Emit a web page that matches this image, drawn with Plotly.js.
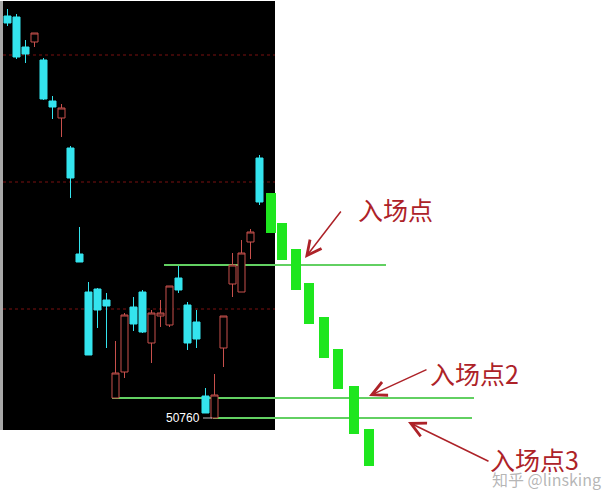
<!DOCTYPE html>
<html>
<head>
<meta charset="utf-8">
<script src="https://cdn.plot.ly/plotly-3.0.1.min.js"></script>
<style>html,body{margin:0;padding:0;background:#fff;}#chart{width:611px;height:504px;}</style>
</head>
<body>
<div id="chart"></div>
<script>
// ---- data ----
var candleX = [0,1,2,3,4,5,6,7,8,9,10,11,12,13,14,15,16,17,18,19,20,21,22,23,24,25,26,27,28];
var candleOpen  = [53976,53968,53728,53768,53624,53296,53160,52920,52072,51768,51792,51704,50920,51128,51648,51768,51360,51576,51504,51880,51664,51528,50936,50760,51320,51832,51768,52168,52840];
var candleHigh  = [54032,53992,53784,53840,53640,53336,53272,52936,52288,51848,51800,51760,51376,51600,51728,51784,51624,51704,51816,51976,51688,51624,51000,51112,51576,52080,52184,52272,52864];
var candleLow   = [53896,53632,53600,53728,53304,53152,53008,52520,52008,51264,51480,51320,50920,51080,51456,51440,51200,51488,51488,51760,51304,51320,50800,50760,51168,51728,51768,52032,52464];
var candleClose = [53920,53648,53672,53840,53312,53248,53240,52680,52008,51264,51624,51656,51120,51584,51512,51448,51600,51600,51816,51784,51360,51392,50800,50944,51576,51984,52080,52248,52488];

var projX     = [29.3,30.5,32.1,33.5,35.2,36.7,38.5,40.2];
var projOpen  = [52560,52320,52112,51840,51568,51312,51016,50672];
var projClose = [52240,52024,51784,51512,51240,50992,50632,50376];

var gridLevels = [53664, 52648, 51632];
var supportLevels = [51984, 50920, 50760];
var lowLabel = "50760";
var entryLabels = ["入场点", "入场点2", "入场点3"];
var watermark = "知乎 @linsking";

// ---- build traces ----
var CYAN = "#34e4ee", RED = "#c8504c", GREEN = "#1ee61e", LINEGREEN = "#62d062";

var pg = {x:[], base:[], y:[]};
for (var j = 0; j < projX.length; j++) {
  pg.x.push(projX[j]);
  pg.base.push(Math.min(projOpen[j], projClose[j]));
  pg.y.push(Math.abs(projOpen[j] - projClose[j]));
}

var traces = [
  {type:"bar", x:pg.x, base:pg.base, y:pg.y, width:1.1,
   marker:{color:GREEN, line:{width:0}}, hoverinfo:"skip"},
  {type:"candlestick", x:candleX, open:candleOpen, high:candleHigh, low:candleLow, close:candleClose,
   whiskerwidth:0,
   increasing:{line:{color:RED, width:1}, fillcolor:"#000000"},
   decreasing:{line:{color:CYAN, width:1}, fillcolor:CYAN},
   hoverinfo:"skip"}
];

function px(v){ return v/611; }
function py(v){ return 1 - v/504; }
function ix(p){ return (p - 7.5)/9; }

var shapes = [
  {type:"rect", xref:"paper", yref:"paper", x0:px(3), x1:px(275), y0:py(430), y1:py(1),
   fillcolor:"#000000", line:{width:0}, layer:"below"},
  {type:"rect", xref:"paper", yref:"paper", x0:0, x1:px(3), y0:py(430), y1:py(1),
   fillcolor:"#a8a8a8", line:{width:0}, layer:"below"}
];
gridLevels.forEach(function(v){
  shapes.push({type:"line", xref:"paper", yref:"y", x0:px(3), x1:px(275), y0:v, y1:v,
    line:{color:"#7a1010", width:1, dash:"dot"}, layer:"below"});
});
var supportSpans = [[ix(164), ix(386)], [ix(112), ix(474)], [ix(213), ix(472)]];
supportLevels.forEach(function(v, k){
  shapes.push({type:"line", xref:"x", yref:"y", x0:supportSpans[k][0], x1:supportSpans[k][1], y0:v, y1:v,
    line:{color:LINEGREEN, width:2}, layer:"below"});
});
shapes.push({type:"line", xref:"paper", yref:"y", x0:px(203), x1:px(212), y0:supportLevels[2], y1:supportLevels[2],
  line:{color:"#bbbbbb", width:1}});

var ARROW = "#ad2228";
var cjk = "Noto Sans CJK SC, sans-serif";
var annotations = [
  {xref:"paper", yref:"paper", x:px(305), y:py(258), ax:37, ay:-48, text:"", showarrow:true,
   arrowhead:5, arrowsize:1.9, arrowwidth:1.5, arrowcolor:ARROW},
  {xref:"paper", yref:"paper", x:px(369), y:py(396), ax:59, ay:-27, text:"", showarrow:true,
   arrowhead:5, arrowsize:1.9, arrowwidth:1.5, arrowcolor:ARROW},
  {xref:"paper", yref:"paper", x:px(408), y:py(422), ax:82, ay:40, text:"", showarrow:true,
   arrowhead:5, arrowsize:1.9, arrowwidth:1.5, arrowcolor:ARROW},
  {xref:"paper", yref:"paper", x:px(356), y:py(209), xanchor:"left", yanchor:"middle", showarrow:false,
   text:entryLabels[0], font:{family:cjk, size:25, color:ARROW}},
  {xref:"paper", yref:"paper", x:px(428), y:py(373), xanchor:"left", yanchor:"middle", showarrow:false,
   text:entryLabels[1], font:{family:cjk, size:25, color:ARROW}},
  {xref:"paper", yref:"paper", x:px(488), y:py(459), xanchor:"left", yanchor:"middle", showarrow:false,
   text:entryLabels[2], font:{family:cjk, size:25, color:ARROW}},
  {xref:"paper", yref:"y", x:px(202), y:supportLevels[2], xanchor:"right", yanchor:"middle", showarrow:false,
   text:lowLabel, font:{family:"Liberation Sans, Arial, sans-serif", size:12, color:"#ffffff"}},
  {xref:"paper", yref:"paper", x:px(546), y:py(479), xanchor:"center", yanchor:"middle", showarrow:false,
   text:watermark, font:{family:cjk, size:16, color:"rgba(150,150,150,0.7)"}}
];

var layout = {
  width:611, height:504, autosize:false,
  margin:{l:0, r:0, t:0, b:0, pad:0},
  paper_bgcolor:"#ffffff", plot_bgcolor:"#ffffff",
  showlegend:false, barmode:"overlay", bargap:0,
  boxgap:0.22, boxgroupgap:0,
  xaxis:{range:[ix(0), ix(611)], visible:false, fixedrange:true, rangeslider:{visible:false}},
  yaxis:{range:[50072, 54104], visible:false, fixedrange:true},
  shapes:shapes, annotations:annotations
};

Plotly.newPlot("chart", traces, layout, {displayModeBar:false, staticPlot:true});
</script>
</body>
</html>
